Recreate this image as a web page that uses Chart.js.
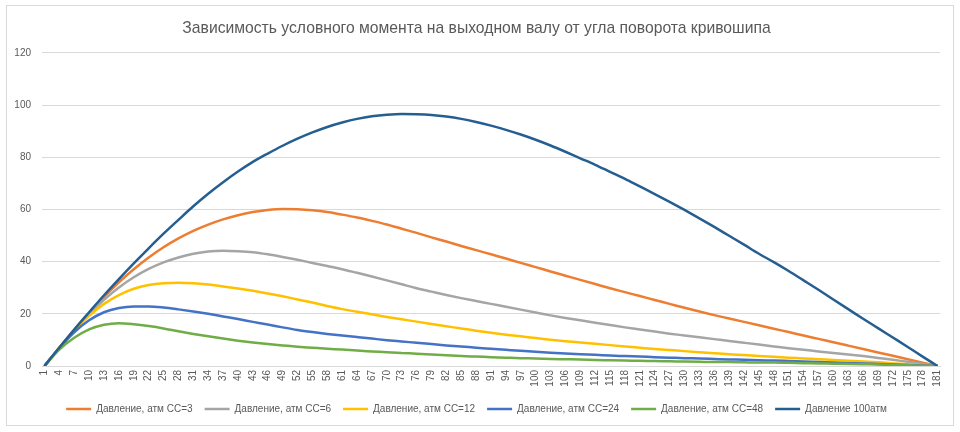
<!DOCTYPE html>
<html>
<head>
<meta charset="utf-8">
<script src="https://cdn.jsdelivr.net/npm/chart.js@4/dist/chart.umd.min.js"></script>
<style>
  html, body { margin: 0; padding: 0; background: #ffffff; }
  #wrap { position: relative; width: 960px; height: 432px; }
</style>
</head>
<body>
<div id="wrap"><canvas id="c" width="960" height="432"></canvas></div>
<script>
// Category labels (crank angle, every integer 1..181)
const categories = [1,2,3,4,5,6,7,8,9,10,11,12,13,14,15,16,17,18,19,20,21,22,23,24,25,26,27,28,29,30,
31,32,33,34,35,36,37,38,39,40,41,42,43,44,45,46,47,48,49,50,51,52,53,54,55,56,57,58,59,60,
61,62,63,64,65,66,67,68,69,70,71,72,73,74,75,76,77,78,79,80,81,82,83,84,85,86,87,88,89,90,
91,92,93,94,95,96,97,98,99,100,101,102,103,104,105,106,107,108,109,110,111,112,113,114,115,116,117,118,119,120,
121,122,123,124,125,126,127,128,129,130,131,132,133,134,135,136,137,138,139,140,141,142,143,144,145,146,147,148,149,150,
151,152,153,154,155,156,157,158,159,160,161,162,163,164,165,166,167,168,169,170,171,172,173,174,175,176,177,178,179,180,181];

const sampleAngles = [1,4,7,10,13,16,19,22,25,28,31,34,37,40,43,46,49,52,55,58,61,64,67,70,73,76,79,82,85,88,
91,94,97,100,103,106,109,112,115,118,121,124,127,130,133,136,139,142,145,148,151,154,157,160,163,166,169,172,175,178,181];

const seriesCC3 = [0,7.1,13.9,20.4,26.5,32.1,37.1,41.6,45.5,48.9,51.8,54.2,56.2,57.8,59.0,59.8,60.2,60.1,59.7,59.0,
58.0,56.9,55.6,54.2,52.6,51.0,49.3,47.7,46.0,44.4,42.8,41.2,39.5,37.9,36.2,34.6,33.0,31.4,29.8,28.3,
26.8,25.3,23.8,22.3,20.9,19.5,18.2,16.9,15.6,14.3,13.0,11.7,10.4,9.1,7.8,6.5,5.2,3.9,2.6,1.3,0];

const seriesCC6 = [0,7.0,13.7,19.9,25.4,30.1,34.0,37.2,39.7,41.6,43.0,43.9,44.2,44.0,43.6,42.8,41.8,40.7,39.5,38.3,
37.1,35.7,34.3,32.8,31.3,29.8,28.5,27.2,26.0,24.9,23.8,22.7,21.6,20.5,19.4,18.4,17.5,16.6,15.7,14.8,
14.0,13.2,12.4,11.7,11.0,10.3,9.6,8.9,8.2,7.5,6.8,6.2,5.6,5.0,4.4,3.8,3.1,2.4,1.6,0.8,0];

const seriesCC12 = [0,7.0,13.5,19.2,23.8,27.2,29.6,31.0,31.7,31.9,31.7,31.2,30.5,29.7,28.8,27.8,26.7,25.5,24.3,23.0,
21.8,20.8,19.8,18.8,17.9,17.0,16.1,15.2,14.4,13.5,12.7,12.0,11.4,10.7,10.1,9.5,9.0,8.5,8.0,7.5,
7.0,6.5,6.1,5.7,5.3,4.9,4.5,4.2,3.8,3.5,3.2,2.9,2.6,2.3,2.0,1.7,1.4,1.0,0.7,0.3,0];

const seriesCC24 = [0,6.9,12.9,17.5,20.6,22.2,22.8,22.8,22.4,21.7,20.9,20.0,19.0,18.0,16.9,15.9,14.8,13.8,13.0,12.3,
11.7,11.1,10.5,9.9,9.4,8.9,8.4,7.9,7.5,7.0,6.6,6.2,5.8,5.5,5.1,4.8,4.5,4.3,4.0,3.8,
3.6,3.4,3.2,3.0,2.9,2.7,2.5,2.4,2.2,2.1,1.9,1.7,1.5,1.3,1.1,1.0,0.8,0.6,0.4,0.2,0];

const seriesCC48 = [0,6.3,10.8,14.0,15.8,16.4,16.0,15.3,14.4,13.3,12.3,11.4,10.5,9.7,9.0,8.4,7.9,7.4,7.0,6.6,
6.3,5.9,5.6,5.3,5.0,4.7,4.4,4.1,3.8,3.6,3.4,3.2,3.0,2.9,2.7,2.6,2.5,2.3,2.2,2.1,
2.0,1.9,1.8,1.7,1.6,1.5,1.5,1.4,1.3,1.3,1.2,1.1,1.0,0.9,0.8,0.7,0.6,0.4,0.3,0.1,0];

const series100 = [0,7.1,14.0,20.6,27.1,33.3,39.3,45.1,50.7,56.0,61.2,66.0,70.4,74.5,78.2,81.4,84.4,87.1,89.5,91.6,
93.3,94.7,95.7,96.3,96.6,96.5,96.2,95.6,94.7,93.5,92.1,90.5,88.7,86.7,84.5,82.1,79.6,77.1,74.4,71.7,
68.8,65.9,62.9,59.8,56.6,53.3,49.9,46.5,43.0,39.8,36.4,32.8,29.2,25.5,21.8,18.1,14.5,10.9,7.3,3.6,0];

const seriesNames = ['Давление, атм СС=3','Давление, атм СС=6','Давление, атм СС=12','Давление, атм СС=24','Давление, атм СС=48','Давление 100атм'];
const seriesValues = [seriesCC3, seriesCC6, seriesCC12, seriesCC24, seriesCC48, series100];
const seriesColors = ['#ED7D31','#A5A5A5','#FFC000','#4472C4','#70AD47','#255E91'];
const yTicks = [0,20,40,60,80,100,120];

const toPoints = vals => sampleAngles.map((a, i) => ({ x: a, y: vals[i] }));

const datasets = seriesValues.map((vals, i) => ({
  label: seriesNames[i],
  data: toPoints(vals),
  borderColor: seriesColors[i],
  backgroundColor: seriesColors[i],
  borderWidth: 2.5,
  pointRadius: 0,
  pointHoverRadius: 0,
  cubicInterpolationMode: 'monotone',
  fill: false,
  order: seriesValues.length - 1 - i
}));

const bgPlugin = {
  id: 'bg',
  beforeDraw(chart) {
    const ctx = chart.ctx;
    ctx.save();
    ctx.fillStyle = '#ffffff';
    ctx.fillRect(0, 0, chart.width, chart.height);
    ctx.strokeStyle = '#D9D9D9';
    ctx.lineWidth = 1;
    ctx.strokeRect(6.5, 5.5, 947, 420);
    ctx.restore();
  }
};

const FONT = "'Liberation Sans', Arial, sans-serif";

new Chart(document.getElementById('c'), {
  type: 'line',
  data: { labels: categories, datasets },
  plugins: [bgPlugin],
  options: {
    responsive: false,
    animation: false,
    layout: { padding: { left: 13, right: 20, top: 0, bottom: 8 } },
    plugins: {
      title: {
        display: true,
        text: 'Зависимость условного момента на выходном валу от угла поворота кривошипа',
        color: '#595959',
        font: { family: FONT, size: 15.7, weight: 'normal' },
        padding: { top: 19, bottom: 15 }
      },
      legend: {
        position: 'bottom',
        labels: {
          color: '#595959',
          font: { family: FONT, size: 10 },
          usePointStyle: true,
          pointStyle: 'line',
          pointStyleWidth: 25,
          boxHeight: 10,
          padding: 12,
          sort: (a, b) => a.datasetIndex - b.datasetIndex
        }
      },
      tooltip: { enabled: false }
    },
    scales: {
      x: {
        type: 'category',
        offset: true,
        grid: { display: false, drawTicks: false },
        border: { display: true, color: '#D9D9D9', width: 1 },
        ticks: {
          autoSkip: false,
          maxRotation: 90,
          minRotation: 90,
          padding: 4,
          color: '#595959',
          font: { family: FONT, size: 10 },
          callback: function(value, index) { return index % 3 === 0 ? String(categories[index]) : ''; }
        },
        afterFit(scale) { scale.height = 26; }
      },
      y: {
        min: 0,
        max: 120,
        afterBuildTicks(scale) { scale.ticks = yTicks.map(v => ({ value: v })); },
        grid: { color: '#D9D9D9', drawTicks: false },
        border: { display: false },
        ticks: {
          padding: 11,
          color: '#595959',
          font: { family: FONT, size: 10 }
        },
        afterFit(scale) { scale.width = 29; }
      }
    }
  }
});
</script>
</body>
</html>
